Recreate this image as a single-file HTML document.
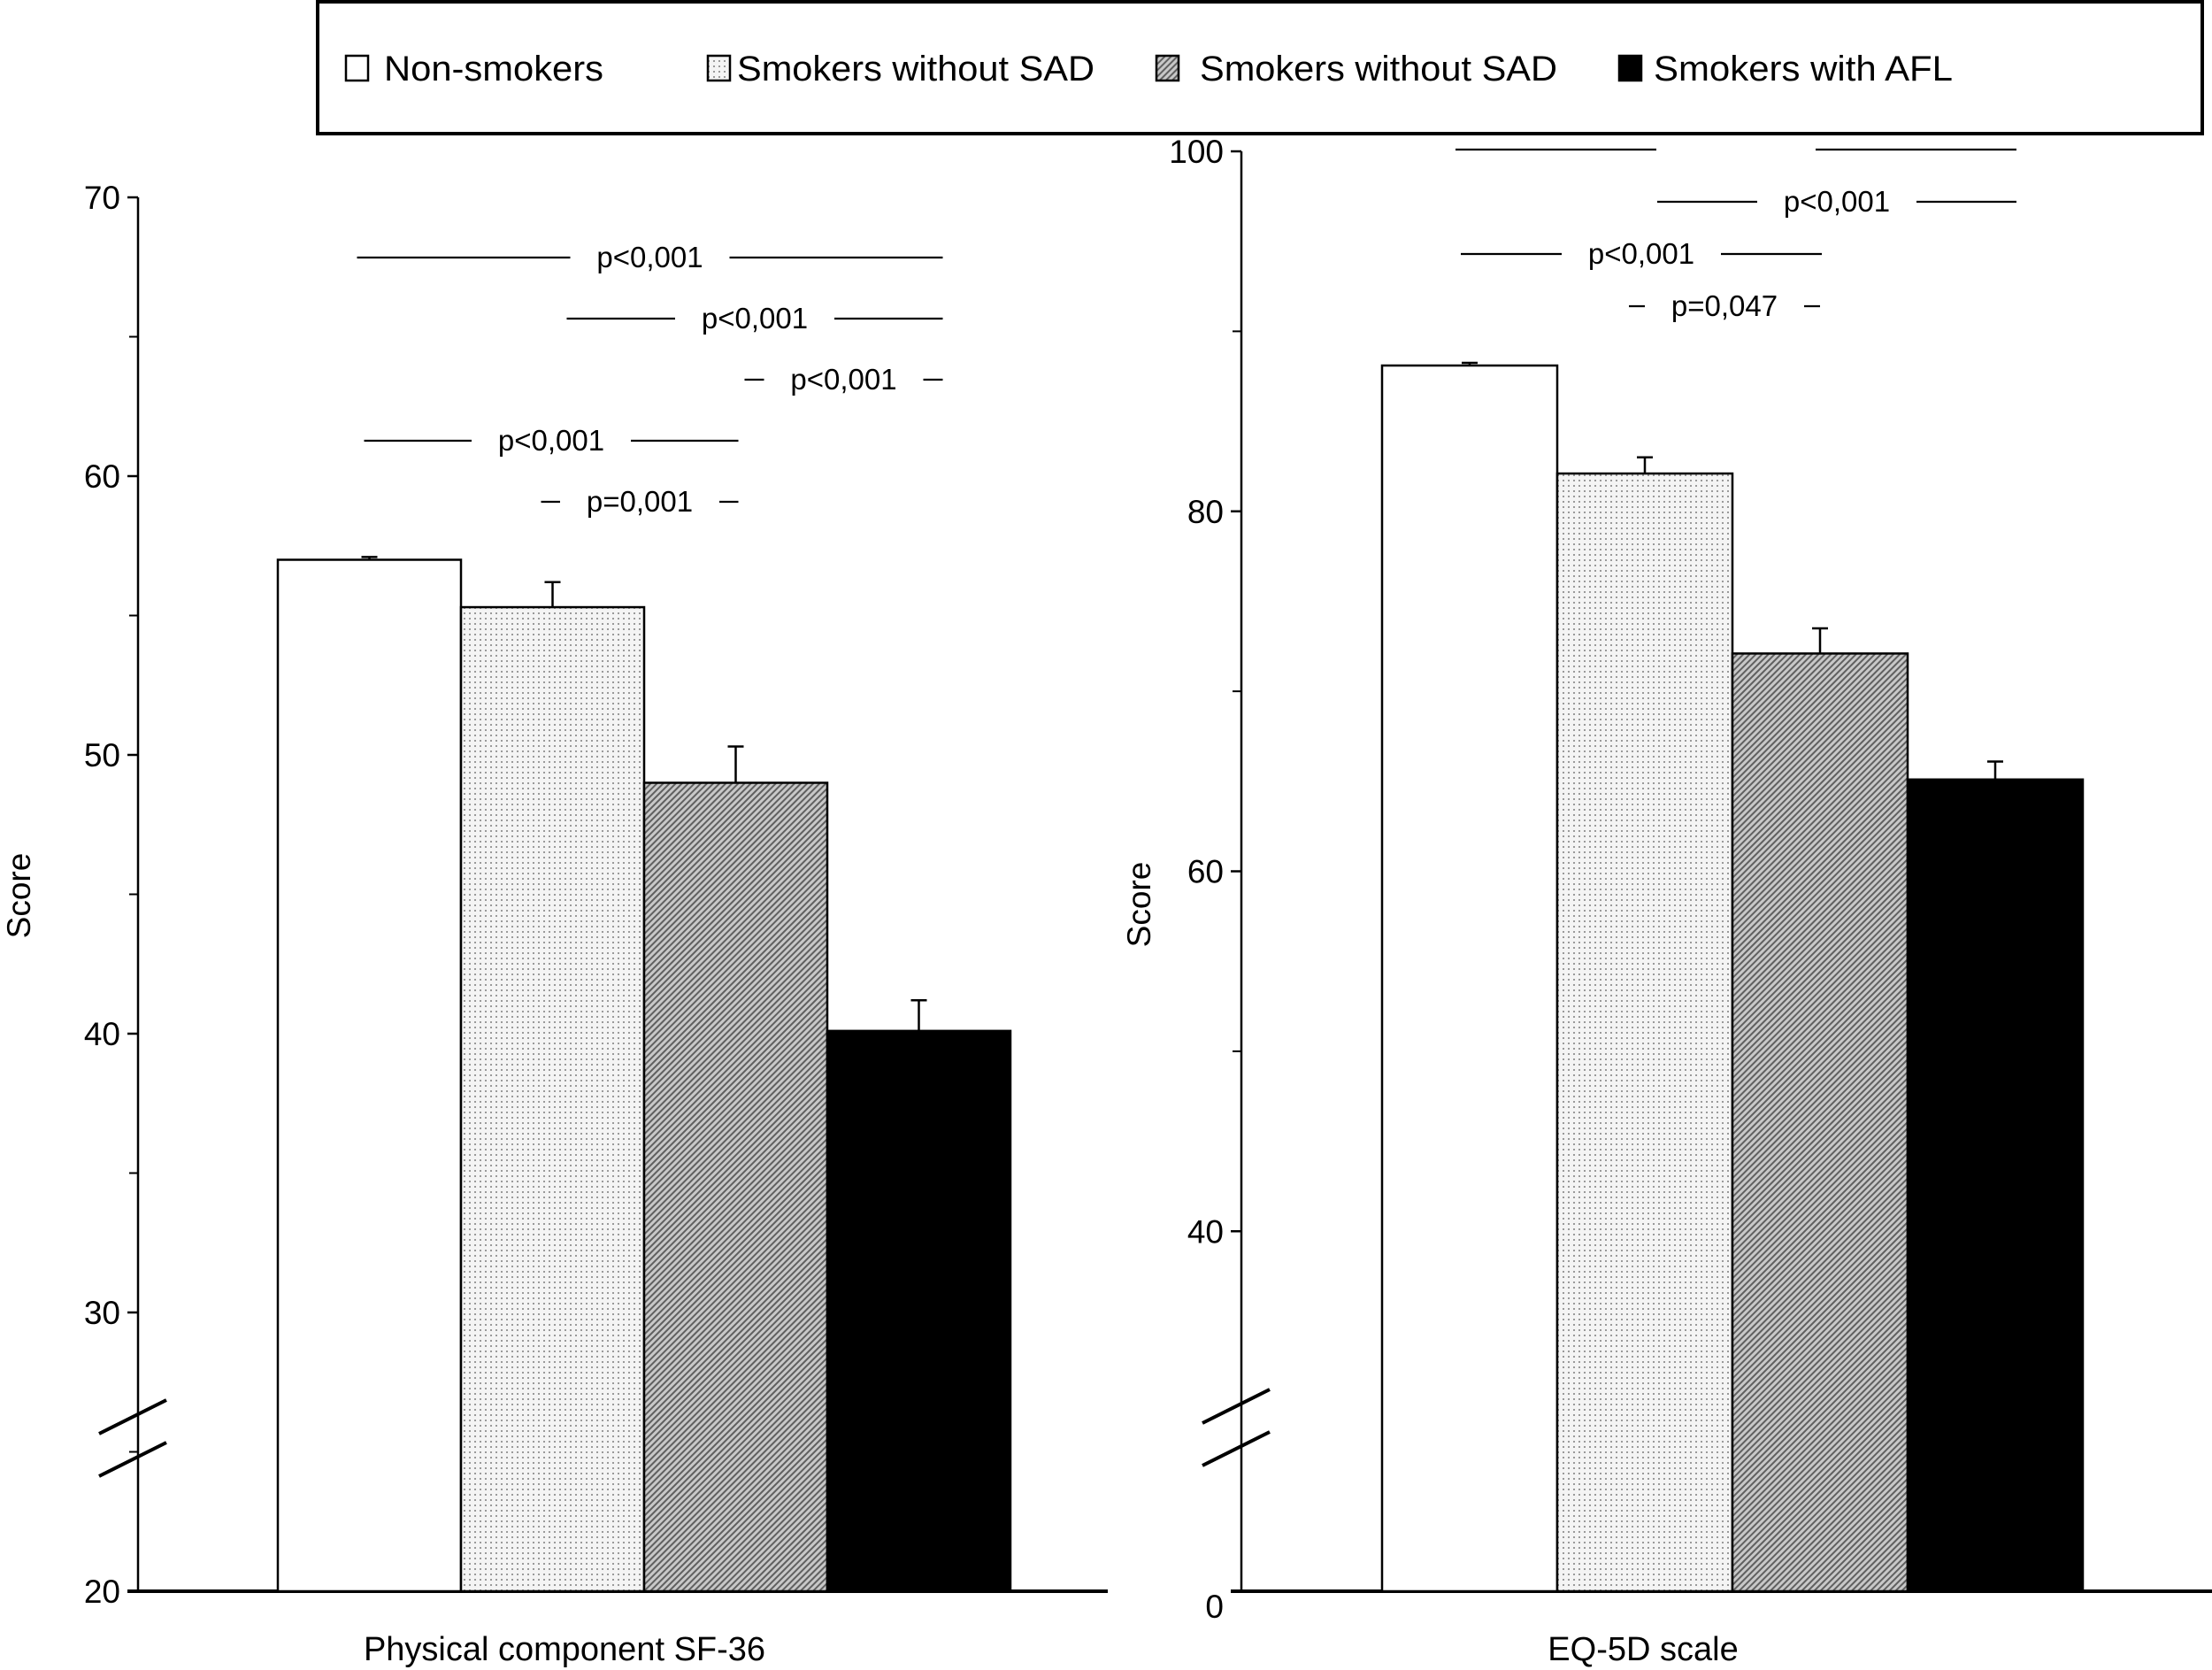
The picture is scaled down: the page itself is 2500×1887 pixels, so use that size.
<!DOCTYPE html>
<html><head><meta charset="utf-8"><style>
html,body{margin:0;padding:0;background:#fff}
svg{display:block}
text{font-family:"Liberation Sans Narrow","Liberation Sans",sans-serif;fill:#000}
</style></head><body>
<svg id="chart" width="2500" height="1887" viewBox="0 0 2500 1887" xmlns="http://www.w3.org/2000/svg">
<defs>
<pattern id="dots" width="6" height="6" patternUnits="userSpaceOnUse"><rect width="6" height="6" fill="#f4f4f4"/><rect x="2" y="2" width="2" height="2" fill="#9a9a9a"/></pattern>
<pattern id="hatch" width="5" height="5" patternUnits="userSpaceOnUse" patternTransform="rotate(45)"><rect width="5" height="5" fill="#c8c8c8"/><rect width="2" height="5" fill="#606060"/></pattern>
</defs>
<g>
<rect x="359" y="2" width="2130" height="149" fill="#fff" stroke="#000" stroke-width="4"/>
<rect x="391" y="63" width="25" height="28" fill="#fff" stroke="#000" stroke-width="2.5"/>
<text x="434" y="91" font-size="40" textLength="248" lengthAdjust="spacingAndGlyphs">Non-smokers</text>
<rect x="800" y="63" width="25" height="28" fill="url(#dots)" stroke="#000" stroke-width="2.5"/>
<text x="833" y="91" font-size="40" textLength="404" lengthAdjust="spacingAndGlyphs">Smokers without SAD</text>
<rect x="1307" y="63" width="25" height="28" fill="url(#hatch)" stroke="#000" stroke-width="2.5"/>
<text x="1356" y="91" font-size="40" textLength="404" lengthAdjust="spacingAndGlyphs">Smokers without SAD</text>
<rect x="1830" y="63" width="25" height="28" fill="#000" stroke="#000" stroke-width="2.5"/>
<text x="1869" y="91" font-size="40" textLength="338" lengthAdjust="spacingAndGlyphs">Smokers with AFL</text>
</g>
<g id="left"></g>
<g id="right"></g>
</svg>
<script>
const NS='http://www.w3.org/2000/svg';
const groups=['Non-smokers','Smokers without SAD','Smokers without SAD','Smokers with AFL'];
const leftValues=[57.0,55.3,49.0,40.1];
const leftErrors=[0.1,0.9,1.3,1.1];
const leftTicks=[20,30,40,50,60,70];
const leftMinor=[25,35,45,55,65];
const rightValues=[88.1,82.1,72.1,65.1];
const rightErrors=[0.15,0.9,1.4,1.0];
const rightTicks=[40,60,80,100];
const rightTickLabels=['40','60','80','100'];
const rightMinor=[50,70,90];
const leftSig=[['p<0,001',0,3,0],['p<0,001',1,3,1],['p<0,001',2,3,2],['p<0,001',0,2,3],['p=0,001',1,2,4]];
const rightSig=[['',0,3,0],['p<0,001',1,3,1],['p<0,001',0,2,2],['p=0,047',1,2,3]];
const fills=['#fff','url(#dots)','url(#hatch)','#000'];
// drawing offsets (style, not data)
const leftSigOff=[[14,27],[-16,27],[-10,27],[6,3],[13,3]];
const rightSigOff=[[16,24],[-14,24],[10,2],[18,0]];

function el(parent,tag,attrs,txt){const e=document.createElementNS(NS,tag);for(const k in attrs)e.setAttribute(k,attrs[k]);if(txt!==undefined)e.textContent=txt;parent.appendChild(e);return e;}

function panel(g,cfg){
  const y=v=>cfg.y0+(v-cfg.vmin)*(cfg.y1-cfg.y0)/(cfg.vmax-cfg.vmin);
  const x=i=>cfg.barX0+i*cfg.barW;
  let a=el(g,'line',{x1:cfg.ax,y1:y(cfg.vmax),x2:cfg.ax,y2:cfg.y0,stroke:'#000','stroke-width':2.5});
  
  
  let b=el(g,'line',{x1:cfg.ax-12,y1:cfg.y0,x2:cfg.axEnd,y2:cfg.y0,stroke:'#000','stroke-width':4});
  
  
  cfg.ticks.forEach((t,i)=>{
    const ty=y(t);
    let l=el(g,'line',{x1:cfg.ax-12,y1:ty,x2:cfg.ax,y2:ty,stroke:'#000','stroke-width':2.5});
    
    
    let tx=el(g,'text',{x:cfg.ax-20,y:ty+13,'font-size':37,'text-anchor':'end'},cfg.tickLabels[i]);
    
    
  });
  cfg.minor.forEach(t=>{
    let l=el(g,'line',{x1:cfg.ax-10,y1:y(t),x2:cfg.ax,y2:y(t),stroke:'#000','stroke-width':2});
    
    
  });
  if(cfg.zeroLabel){
    let z=el(g,'text',{x:cfg.ax-20,y:cfg.y0+30,'font-size':37,'text-anchor':'end'},cfg.zeroLabel);
    
    
  }
  [0,48].forEach(d=>{
    let s=el(g,'line',{x1:cfg.ax-44,y1:cfg.brk+d+18,x2:cfg.ax+32,y2:cfg.brk+d-20,stroke:'#000','stroke-width':4});
    
    
  });
  cfg.values.forEach((v,i)=>{
    let r=el(g,'rect',{x:x(i),y:y(v),width:cfg.barW,height:cfg.y0-y(v),fill:fills[i],stroke:'#000','stroke-width':2.5});
    
    
    const cx=x(i)+cfg.barW/2, ey=y(v+cfg.errors[i]);
    let e=el(g,'path',{d:`M${cx},${y(v)}V${ey}M${cx-9},${ey}H${cx+9}`,stroke:'#000','stroke-width':2.5,fill:'none'});
    
    
  });
  cfg.sig.forEach((s,k)=>{
    const [lab,i,j,row]=s;
    const off=cfg.sigOff[k]||[0,0];
    const x1=x(i)+cfg.barW/2-off[0], x2=x(j)+cfg.barW/2+off[1];
    const ly=cfg.sigY0+row*cfg.sigDy, mid=(x1+x2)/2;
    const half=90;
    let l1=el(g,'line',{x1:x1,y1:ly,x2:mid-half,y2:ly,stroke:'#000','stroke-width':2.2});
    
    
    let l2=el(g,'line',{x1:mid+half,y1:ly,x2:x2,y2:ly,stroke:'#000','stroke-width':2.2});
    
    
    if(lab){
      let t=el(g,'text',{x:mid,y:ly+11,'font-size':33,'text-anchor':'middle'},lab);
      
      
    }
  });
  let yl=el(g,'text',{x:0,y:0,'font-size':37,'text-anchor':'middle',transform:`translate(${cfg.ylx},${cfg.yly}) rotate(-90)`},'Score');
  
  
  let xl=el(g,'text',{x:cfg.xlx,y:1876,'font-size':38,'text-anchor':'middle'},cfg.xTitle);
  
  
}

panel(document.getElementById('left'),{
  values:leftValues,errors:leftErrors,ticks:leftTicks,tickLabels:leftTicks.map(String),minor:leftMinor,
  vmin:20,vmax:70,y0:1798,y1:223,ax:156,axEnd:1252,barX0:314,barW:207,brk:1602,
  sig:leftSig,sigOff:leftSigOff,sigY0:291,sigDy:69,ylx:34,yly:1012,xlx:638,xTitle:'Physical component SF-36'
});
panel(document.getElementById('right'),{
  values:rightValues,errors:rightErrors,ticks:rightTicks,tickLabels:rightTickLabels,minor:rightMinor,
  vmin:20,vmax:100,y0:1798,y1:171,ax:1403,axEnd:2500,barX0:1562,barW:198,brk:1590,zeroLabel:'0',
  sig:rightSig,sigOff:rightSigOff,sigY0:169,sigDy:59,ylx:1300,yly:1022,xlx:1857,xTitle:'EQ-5D scale'
});
</script>
</body></html>
